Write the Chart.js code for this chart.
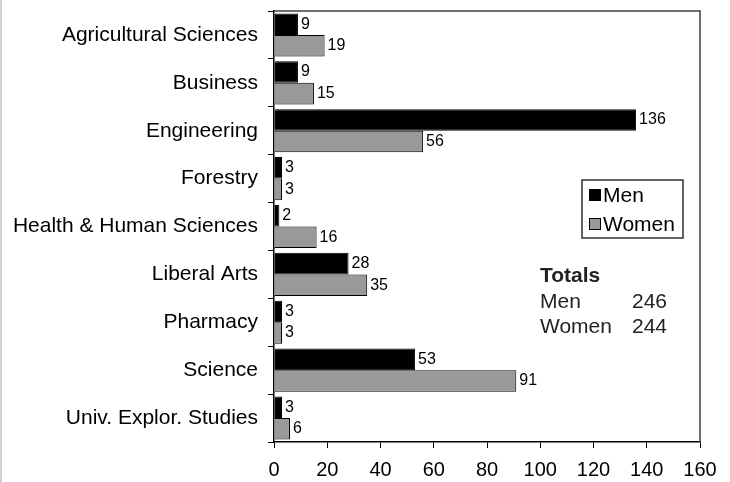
<!DOCTYPE html>
<html>
<head>
<meta charset="utf-8">
<script src="https://cdn.jsdelivr.net/npm/chart.js@4.4.0/dist/chart.umd.min.js"></script>
<style>
  body { margin: 0; background: #fff; }
  #wrap { width: 730px; height: 482px; }
</style>
</head>
<body>
<div id="wrap"><canvas id="myChart" width="730" height="482"></canvas></div>
<script>
// data
var colleges = ['Agricultural Sciences', 'Business', 'Engineering', 'Forestry',
    'Health & Human Sciences', 'Liberal Arts', 'Pharmacy', 'Science', 'Univ. Explor. Studies'];
var men = [9, 9, 136, 3, 2, 28, 3, 53, 3];
var women = [19, 15, 56, 3, 16, 35, 3, 91, 6];
var xTicks = [0, 20, 40, 60, 80, 100, 120, 140, 160];

var FONT = 'Arial, "Liberation Sans", sans-serif';

function sum(arr) {
    return arr.reduce((a, b) => a + b, 0);
}

// value labels, frame, legend box and totals
const extras = {
    id: 'extras',
    afterDatasetsDraw(chart) {
        const ctx = chart.ctx;
        const area = chart.chartArea;
        ctx.save();

        // light edge on the left of the picture
        ctx.strokeStyle = '#d0d0d0';
        ctx.lineWidth = 2;
        ctx.beginPath();
        ctx.moveTo(1, 0);
        ctx.lineTo(1, 482);
        ctx.stroke();

        // top and right frame of the plot
        ctx.strokeStyle = '#404040';
        ctx.lineWidth = 1.5;
        ctx.beginPath();
        ctx.moveTo(area.left, area.top);
        ctx.lineTo(area.right, area.top);
        ctx.lineTo(area.right, area.bottom);
        ctx.stroke();

        // numbers at the end of each bar
        ctx.fillStyle = '#000';
        ctx.font = '16px ' + FONT;
        ctx.textAlign = 'left';
        ctx.textBaseline = 'middle';
        chart.data.datasets.forEach((ds, di) => {
            const meta = chart.getDatasetMeta(di);
            meta.data.forEach((bar, i) => {
                ctx.fillText(ds.data[i], bar.x + 3, bar.y);
            });
        });

        // legend box
        ctx.fillStyle = '#fff';
        ctx.fillRect(582, 180, 101, 58);
        ctx.strokeStyle = '#333';
        ctx.lineWidth = 1.5;
        ctx.strokeRect(582, 180, 101, 58);
        ctx.fillStyle = '#000';
        ctx.fillRect(589, 189, 12, 12);
        ctx.fillStyle = '#999';
        ctx.fillRect(589, 218, 12, 12);
        ctx.strokeStyle = '#000';
        ctx.lineWidth = 1;
        ctx.strokeRect(589.5, 218.5, 11, 11);
        ctx.fillStyle = '#000';
        ctx.font = '21px ' + FONT;
        ctx.textBaseline = 'alphabetic';
        ctx.fillText(chart.data.datasets[0].label, 603, 202);
        ctx.fillText(chart.data.datasets[1].label, 603, 231);

        // totals
        ctx.fillStyle = '#222';
        ctx.font = 'bold 21px ' + FONT;
        ctx.fillText('Totals', 540, 282);
        ctx.font = '21px ' + FONT;
        ctx.fillText('Men', 540, 308);
        ctx.fillText(sum(men), 632, 308);
        ctx.fillText('Women', 540, 333);
        ctx.fillText(sum(women), 632, 333);

        ctx.restore();
    }
};

const ctxs = document.getElementById('myChart').getContext('2d');

const myChart = new Chart(ctxs, {
    type: 'bar',
    data: {
        labels: colleges,
        datasets: [
            {
                label: 'Men',
                data: men,
                backgroundColor: '#000000',
                borderColor: '#000000',
                borderWidth: 1,
                categoryPercentage: 0.9,
                barPercentage: 1.0,
            },
            {
                label: 'Women',
                data: women,
                backgroundColor: '#999999',
                borderColor: '#000000',
                borderWidth: 1,
                categoryPercentage: 0.9,
                barPercentage: 1.0,
            },
        ],
    },
    options: {
        indexAxis: 'y',
        responsive: false,
        animation: false,
        layout: {
            padding: { top: 11, right: 30, left: 0, bottom: 0 }
        },
        scales: {
            x: {
                min: 0,
                max: 160,
                afterBuildTicks: (scale) => {
                    scale.ticks = xTicks.map(v => ({ value: v }));
                },
                afterFit: (scale) => { scale.height = 40; },
                grid: {
                    drawOnChartArea: false,
                    tickLength: 6,
                    color: '#000',
                },
                border: { color: '#000', width: 1.5 },
                ticks: {
                    color: '#000',
                    padding: 10,
                    maxRotation: 0,
                    font: { size: 20, family: FONT },
                },
            },
            y: {
                afterFit: (scale) => {
                    scale.width = 274;
                    scale.paddingTop = 0;
                    scale.paddingBottom = 0;
                },
                grid: {
                    offset: true,
                    drawOnChartArea: false,
                    tickLength: 6,
                    color: '#000',
                },
                border: { color: '#000', width: 1.5 },
                ticks: {
                    color: '#000',
                    padding: 10,
                    font: { size: 21, family: FONT },
                },
            },
        },
        plugins: {
            legend: { display: false },
            tooltip: { enabled: false },
        },
    },
    plugins: [extras],
});
</script>
</body>
</html>
